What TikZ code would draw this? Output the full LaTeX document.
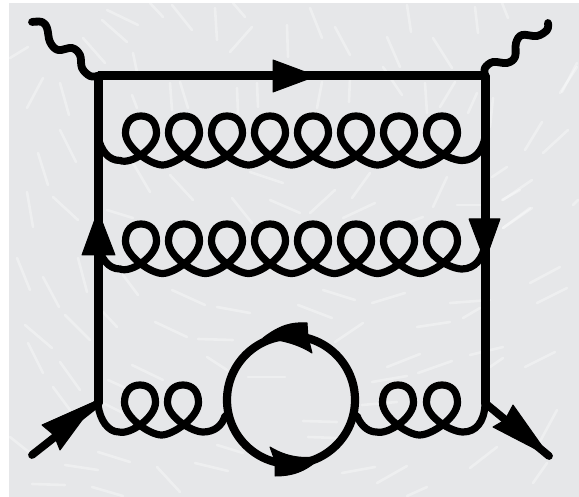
\documentclass[tikz,border=0pt]{standalone}
\tikzset{
  edgeline/.style={line width=9pt,line cap=round,line join=miter},
  curl/.style={line width=7.2pt,line cap=round,line join=round},
  wave/.style={line width=7.8pt,line cap=round,line join=round},
  ringline/.style={line width=8.2pt},
  head/.style={fill=black,draw=black,line width=1pt,line join=round},
  streak/.style={draw=white,line width=2.6pt,line cap=round,opacity=0.34},
}
\definecolor{bgfill}{HTML}{E6E7E9}
% rising side, top and left side of one loop at x=#1, with top #2 and trough #3
\newcommand{\loopup}[3]{%
  .. controls ({#1-10},#3) and ({#1+15.5},{#2+0.65*(#3-#2)}) .. ({#1+15.5},{#2+0.347*(#3-#2)})
  .. controls ({#1+15.5},{#2+0.12*(#3-#2)}) and ({#1+9},#2) .. (#1,#2)
  .. controls ({#1-9},#2) and ({#1-15.5},{#2+0.12*(#3-#2)}) .. ({#1-15.5},{#2+0.347*(#3-#2)})
}
% #1 left end, #2 loops but the last, #3 last loop, #4 top y, #5 trough y, #6 first curve, #7 last curve
\newcommand{\curlpath}[7]{%
  \draw[curl] (#1) .. controls #6
    \foreach \lx in {#2} {
      \loopup{\lx}{#4}{#5}
      .. controls ({\lx-15.5},{#4+0.65*(#5-#4)}) and ({\lx+10},#5) .. ({\lx+21.5},#5)
    }
    \loopup{#3}{#4}{#5}
    .. controls #7;%
}
\begin{document}
\begin{tikzpicture}[x=1pt,y=-1pt]
\useasboundingbox (0,0) rectangle (579,497);
\fill[white] (0,0) rectangle (579,497);
\fill[bgfill] (9,3) rectangle (579,497);
\foreach \a/\b/\c/\d in {
107/10/138/25,102/20/127/42,150/3/163/17,172/5/192/30,215/8/217/40,230/52/252/27,233/3/245/17,287/25/288/57,
10/58/28/47,83/38/105/63,133/53/138/77,43/78/27/108,60/83/69/115,60/130/76/162,38/153/48/185,27/192/33/227,
53/197/78/220,107/210/133/218,133/163/150/192,170/175/193/200,232/198/252/223,250/172/283/183,270/200/300/213,
170/83/172/110,180/82/188/108,237/88/238/113,257/83/258/107,132/95/137/108,
17/258/30/290,43/277/59/307,78/258/87/292,65/315/90/340,25/325/52/348,28/343/43/373,60/362/80/390,53/387/70/410,
10/437/30/453,123/275/138/295,103/312/117/327,172/290/205/305,217/307/250/313,155/322/187/337,198/339/233/340,
207/357/227/370,132/365/163/380,108/380/130/390,103/403/123/413,248/377/285/377,98/452/130/462,65/465/98/470,
32/484/65/485,92/487/123/496,157/467/180/492,195/463/228/471,217/445/243/453,
530/283/560/267,537/303/567/288,323/290/355/300,372/303/405/293,298/305/332/318,450/303/490/300,463/318/480/308,
417/327/450/322,335/342/363/323,387/367/420/354,418/373/452/361,372/382/407/376,470/355/503/347,490/367/503/358,
525/367/555/352,303/421/337/422,308/437/337/438,342/473/375/467,377/483/407/466,470/468/497/447,407/496/427/487,
537/447/557/410,533/483/547/463,362/405/397/402,
310/8/322/38,335/27/350/55,387/37/400/67,407/5/411/32,433/38/452/68,475/7/478/33,322/82/317/108,350/77/349/102,
383/67/402/95,425/83/427/113,455/82/440/107,477/93/468/113,370/173/352/198,447/177/433/207,335/190/310/213,
375/203/343/218,457/205/480/205,423/217/407/223,
562/92/577/63,493/98/490/127,542/122/525/150,568/130/543/153,507/167/492/177,532/180/503/200,532/208/503/228,
578/200/573/205,502/200/520/190,503/228/530/208,560/93/577/67,502/3/508/18
}{\draw[streak] (\a,\b) -- (\c,\d);}

\coordinate (tl) at (98,76);
\coordinate (tr) at (485,76);
\coordinate (bl) at (98,403);
\coordinate (br) at (485,403);
\coordinate (inq) at (32,455);
\coordinate (outq) at (549,456);
\coordinate (phl) at (32,22);
\coordinate (phr) at (548,23);
\coordinate (ring) at (291,400);
\coordinate (g1l) at (98,137);
\coordinate (g1r) at (485,137);
\coordinate (g2l) at (98,245);
\coordinate (g2r) at (485,245);
\coordinate (g3l) at (98,405);
\coordinate (g3r) at (225,416);
\coordinate (g4l) at (357,416);
\coordinate (g4r) at (485,405);

\draw[edgeline,line cap=butt] (tl) -- (tr);
\draw[edgeline] (tl) -- (bl);
\draw[edgeline] (tr) -- (br);
\draw[wave] (bl) -- (inq);
\draw[wave] (br) -- (outq);

\draw[wave] plot[smooth,tension=0.6] coordinates {(phl) (42,22) (47,28) (50,42) (58,50) (72,48) (80,55) (82,68) (90,76) (tl)};
\draw[wave] plot[smooth,tension=0.6] coordinates {(phr) (547,30) (537,36) (522,35) (516,43) (515,57) (507,63) (493,62) (485,68) (tr)};

\curlpath{g1l}{141,184,227,270,313,356,399}{442}{116}{165}
  {(101,150) and (108,160.5) .. (120,160.5)}
  {(426.5,148) and (451,160.5) .. (462,160.5) .. controls (475,160.5) and (483,150) .. (g1r)}
\curlpath{g2l}{141,184,227,270,313,356,399}{442}{224}{273.5}
  {(101,258) and (108,269) .. (120,269)}
  {(426.5,256) and (451,269) .. (462,269) .. controls (475,269) and (483,258) .. (g2r)}
\curlpath{g3l}{140}{183}{385}{435}
  {(100,420) and (108,432) .. (119,432)}
  {(167.5,417) and (192,432) .. (203,432) .. controls (214,432) and (222,426) .. (g3r)}
\curlpath{g4l}{398}{442}{385}{435}
  {(362,428) and (370,432) .. (376.5,432)}
  {(426.5,417) and (451,432) .. (463,432) .. controls (476,432) and (484,422) .. (g4r)}

\draw[ringline] (ring) circle[radius=64];

\fill[head] (273,60) -- (316,76) -- (273,92) -- cycle;
\fill[head] (82,255) -- (98,211) -- (115,255) -- cycle;
\fill[head] (469,219) -- (485,261) -- (500,219) -- cycle;
\fill[head] (42,425) -- (96,401) -- (60,450) -- (54,435) -- cycle;
\fill[head] (493,427) -- (549,456) -- (513,405) -- (505,420) -- cycle;
\fill[head] (263,338) .. controls (280,325) and (292,322) .. (307,323) -- (308,337) -- (312,353)
   .. controls (298,344) and (282,340) .. cycle;
\fill[head] (270,447) -- (275,461) -- (275,476) .. controls (295,476) and (308,470) .. (322,456)
   .. controls (305,459) and (288,458) .. cycle;
\end{tikzpicture}
\end{document}
